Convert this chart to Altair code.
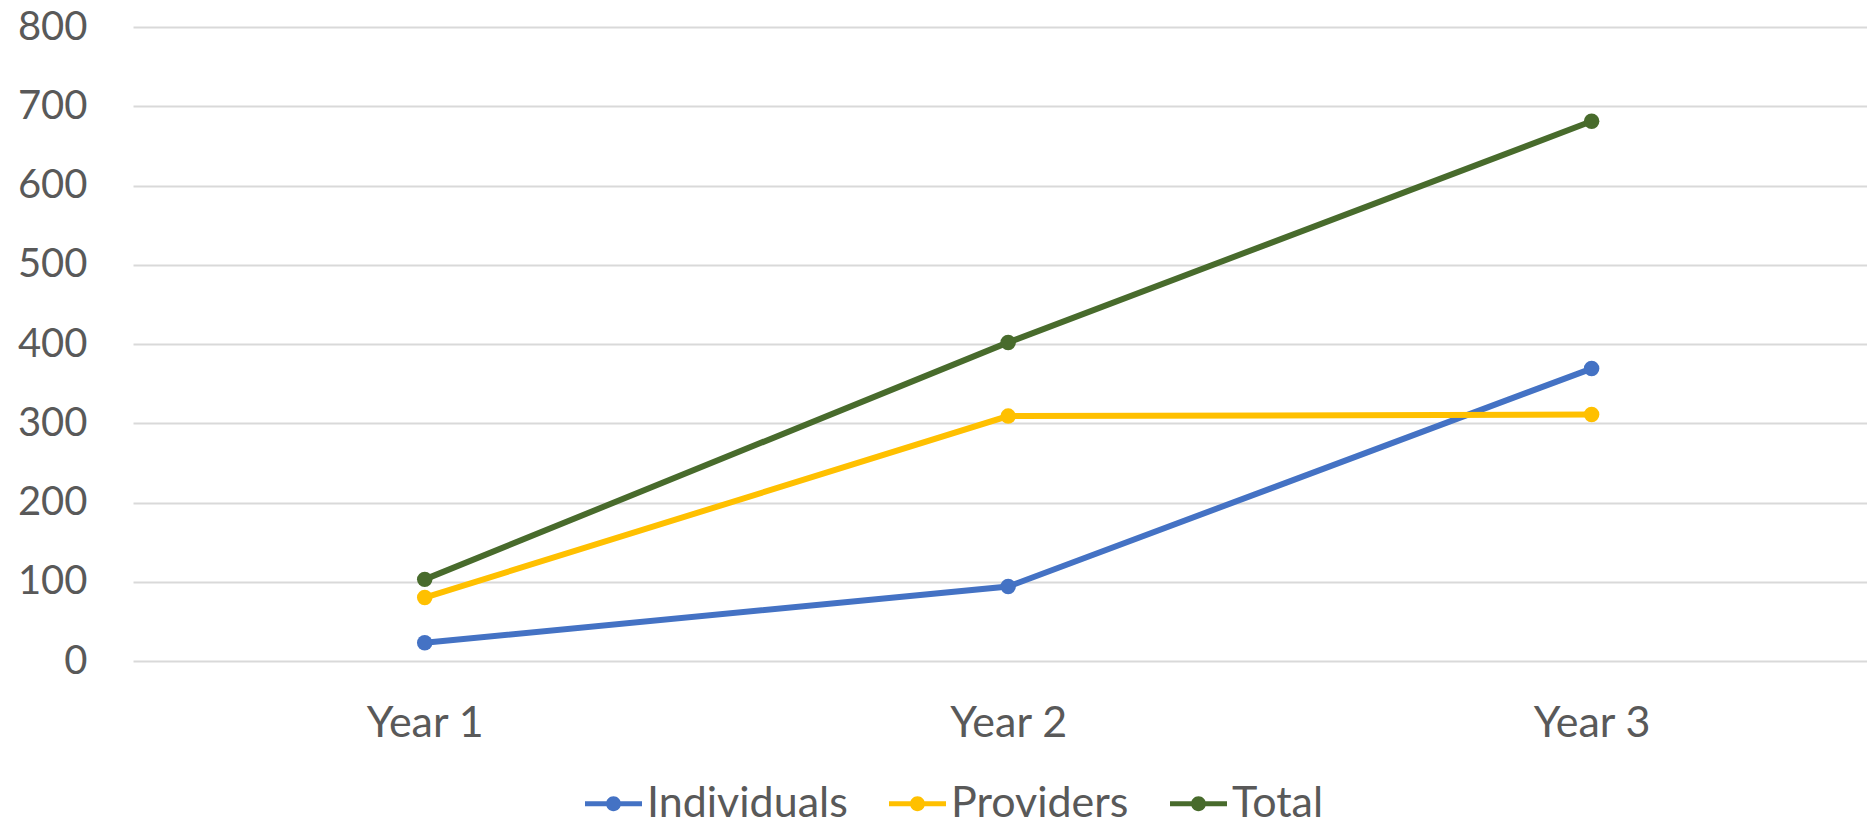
import altair as alt
import pandas as pd

years = ["Year 1", "Year 2", "Year 3"]
series_names = ["Individuals", "Providers", "Total"]
individuals = [23, 94, 369]
providers = [80, 309, 311]
total = [103, 402, 681]
colors = ["#4472C4", "#FFC000", "#486B2C"]
y_ticks = [0, 100, 200, 300, 400, 500, 600, 700, 800]

rows = []
for name, vals in zip(series_names, [individuals, providers, total]):
    for i, (yr, v) in enumerate(zip(years, vals)):
        rows.append({"series": name, "year": yr, "idx": i, "value": v})
df = pd.DataFrame(rows)

label_expr = "[" + ",".join("'" + y + "'" for y in years) + "][datum.value]"

FONT = "Lato"
TXT = "#595959"

legend_path = ("M-1,-0.09 L1,-0.09 L1,0.09 L-1,0.09 Z "
               "M0.26,0 A0.26,0.26 0 1,1 -0.26,0 A0.26,0.26 0 1,1 0.26,0 Z")

legend = alt.Legend(
    title=None,
    orient="none",
    direction="horizontal",
    legendX=452,
    legendY=748,
    symbolType=legend_path,
    symbolSize=3249,
    symbolStrokeWidth=0,
    symbolOpacity=1,
    labelFont=FONT,
    labelFontSize=43,
    labelColor=TXT,
    labelOffset=5,
    labelLimit=1000,
    columnPadding=41,
)

color = alt.Color(
    "series:N",
    sort=series_names,
    scale=alt.Scale(domain=series_names, range=colors),
    legend=legend,
)

x = alt.X(
    "idx:Q",
    scale=alt.Scale(domain=[-0.5, 2.472], nice=False, zero=False),
    axis=alt.Axis(
        values=[0, 1, 2],
        labelExpr=label_expr,
        title=None,
        grid=False,
        domain=False,
        ticks=False,
        tickSize=0,
        labelFont=FONT,
        labelFontSize=43,
        labelColor=TXT,
        labelPadding=41,
    ),
)

y = alt.Y(
    "value:Q",
    scale=alt.Scale(domain=[0, 800], nice=False),
    axis=alt.Axis(
        values=y_ticks,
        title=None,
        domain=False,
        ticks=False,
        tickSize=0,
        gridColor="#D9D9D9",
        gridWidth=1.8,
        labelFont=FONT,
        labelFontSize=40,
        labelColor=TXT,
        labelPadding=46,
    ),
)

base = alt.Chart(df)
lines = base.mark_line(strokeWidth=6).encode(x=x, y=y, color=color, detail="series:N")
points = base.mark_point(filled=True, size=240, opacity=1).encode(x=x, y=y, color=color)

chart = (
    alt.layer(lines, points)
    .properties(
        width=1734,
        height=634,
        autosize=alt.AutoSizeParams(type="none"),
        padding={"left": 125, "top": 19, "right": 0, "bottom": 161},
    )
    .configure(background="white", view=alt.ViewConfig(stroke=None))
)

chart.save("out.html", embed_options={"renderer": "svg", "actions": False})
